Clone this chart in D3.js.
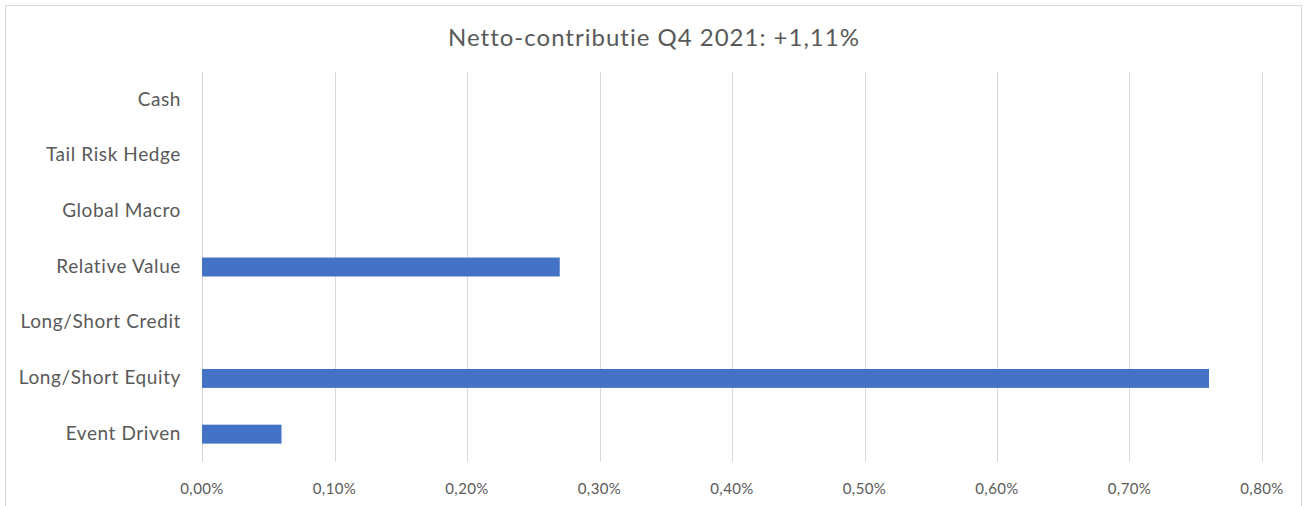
<!DOCTYPE html>
<html>
<head>
<meta charset="utf-8">
<script src="https://cdn.jsdelivr.net/npm/d3@7"></script>
<style>
  html, body { margin: 0; padding: 0; background: #fff; }
  svg { display: block; font-family: Lato, "Open Sans", sans-serif; }
</style>
</head>
<body>
<div id="chart"></div>
<script>
// data, top to bottom as in the picture
const categories = ["Cash", "Tail Risk Hedge", "Global Macro", "Relative Value",
                    "Long/Short Credit", "Long/Short Equity", "Event Driven"];
const values = [0, 0, 0, 0.27, 0, 0.76, 0.06]; // percent
const ticks = [0, 0.1, 0.2, 0.3, 0.4, 0.5, 0.6, 0.7, 0.8];
const title = "Netto-contributie Q4 2021: +1,11%";

const width = 1304, height = 506;
const margin = { top: 72, right: 42, bottom: 44, left: 202 };

const svg = d3.select("#chart").append("svg")
  .attr("width", width)
  .attr("height", height);

// chart frame
svg.append("rect")
  .attr("x", 5.5).attr("y", 5.5)
  .attr("width", width - 8).attr("height", height + 10)
  .attr("fill", "none")
  .attr("stroke", "#d9d9d9");

const x = d3.scaleLinear([0, 0.8], [margin.left, width - margin.right]);
const y = d3.scaleBand(categories, [margin.top, height - margin.bottom])
  .paddingInner(0.66).paddingOuter(0.33);

// gridlines
svg.append("g")
  .selectAll("line")
  .data(ticks)
  .join("line")
  .attr("x1", d => Math.round(x(d)) + 0.5)
  .attr("x2", d => Math.round(x(d)) + 0.5)
  .attr("y1", margin.top)
  .attr("y2", height - margin.bottom)
  .attr("stroke", "#d9d9d9");

// x tick labels
const fmt = d => d3.format(".2f")(d).replace(".", ",") + "%";
svg.append("g")
  .selectAll("text")
  .data(ticks)
  .join("text")
  .attr("x", d => x(d))
  .attr("y", 489)
  .attr("dy", "0.35em")
  .attr("text-anchor", "middle")
  .attr("font-size", 15)
  .attr("letter-spacing", 0.4)
  .attr("fill", "#595959")
  .text(fmt);

// bars
svg.append("g")
  .selectAll("rect")
  .data(categories.map((c, i) => ({ c, v: values[i] })).filter(d => d.v > 0))
  .join("rect")
  .attr("x", x(0))
  .attr("y", d => y(d.c))
  .attr("width", d => x(d.v) - x(0))
  .attr("height", y.bandwidth())
  .attr("fill", "#4472c4");

// category labels
const yc = d3.scaleBand(categories, [margin.top, height - margin.bottom]);
svg.append("g")
  .selectAll("text")
  .data(categories)
  .join("text")
  .attr("x", margin.left - 21)
  .attr("y", d => yc(d) + yc.bandwidth() / 2 - 1)
  .attr("dy", "0.35em")
  .attr("text-anchor", "end")
  .attr("font-size", 19)
  .attr("letter-spacing", 0.6)
  .attr("fill", "#595959")
  .text(d => d);

// title
svg.append("text")
  .attr("x", 654)
  .attr("y", 38)
  .attr("dy", "0.35em")
  .attr("text-anchor", "middle")
  .attr("font-size", 24)
  .attr("letter-spacing", 1)
  .attr("fill", "#595959")
  .text(title);
</script>
</body>
</html>
